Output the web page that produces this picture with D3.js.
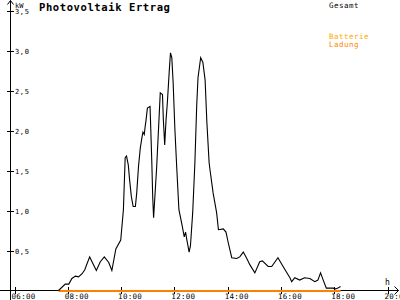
<!DOCTYPE html>
<html>
<head>
<meta charset="utf-8">
<script src="https://cdn.jsdelivr.net/npm/d3@7"></script>
<style>
  body { margin: 0; background: #fff; }
  svg { display: block; }
  text { font-family: "DejaVu Sans Mono", monospace; }
</style>
</head>
<body>
<div id="chart"></div>
<script>
// PV yield ("Gesamt")
const times = ["07:37","07:52","08:00","08:07","08:15","08:22","08:30","08:36","08:47","09:02",
  "09:11","09:20","09:30","09:37","09:46","09:57","10:03","10:07","10:10","10:14",
  "10:17","10:21","10:25","10:30","10:33","10:37","10:41","10:45","10:47","10:50",
  "10:52","10:54","10:57","11:03","11:04","11:07","11:09","11:11","11:18","11:26",
  "11:31","11:33","11:36","11:39","11:42","11:46","11:49","11:52","11:55","11:59",
  "12:03","12:08","12:15","12:20","12:23","12:26","12:31","12:34","12:39","12:44",
  "12:48","12:51","12:57","13:02","13:07","13:11","13:16","13:18","13:25","13:33",
  "13:37","13:48","13:54","13:59","14:07","14:18","14:25","14:33","14:40","14:48",
  "14:59","15:10","15:16","15:29","15:37","15:51","16:07","16:18","16:22","16:29",
  "16:40","16:51","17:03","17:14","17:21","17:27","17:33","17:40","17:55","18:01",
  "18:06","18:12"];
const gesamt = [0.00,0.08,0.08,0.15,0.18,0.17,0.21,0.26,0.42,0.25,
  0.36,0.42,0.35,0.25,0.52,0.63,1.01,1.66,1.68,1.57,
  1.38,1.17,1.05,1.05,1.22,1.55,1.78,1.92,1.98,1.95,
  2.05,2.13,2.28,2.30,2.13,1.60,1.17,0.91,1.55,2.47,
  2.45,2.13,1.82,2.13,2.35,2.72,2.97,2.91,2.60,2.01,
  1.55,1.01,0.82,0.67,0.73,0.63,0.48,0.56,0.97,1.60,
  2.30,2.66,2.91,2.85,2.63,2.10,1.60,1.51,1.22,0.97,
  0.76,0.77,0.73,0.60,0.41,0.40,0.42,0.48,0.41,0.32,
  0.22,0.36,0.37,0.30,0.30,0.41,0.26,0.16,0.11,0.16,
  0.13,0.16,0.15,0.11,0.13,0.22,0.13,0.03,0.03,0.02,
  0.03,0.05];

// battery charging ("Batterie Ladung")
const batteryTimes = ["07:37","18:12"];
const batteryKw = [0, 0];

const yTicks = [0.5, 1.0, 1.5, 2.0, 2.5, 3.0, 3.5];
const xTicks = [6, 8, 10, 12, 14, 16, 18, 20];

const toHours = s => { const [h, m] = s.split(':').map(Number); return h + m / 60; };
const fmtY = v => d3.format('.1f')(v).replace('.', ',');
const fmtX = h => String(h).padStart(2, '0') + ':00';

const width = 400, height = 300;
const svg = d3.select('#chart').append('svg')
  .attr('width', width).attr('height', height);

const x = d3.scaleLinear().domain([6, 20]).range([15.5, 388.5]);
const y = d3.scaleLinear().domain([0, 3.5]).range([290.5, 10.5]);

// axes
const axisG = svg.append('g').attr('stroke', '#000').attr('stroke-width', 1).attr('fill', 'none');
axisG.append('line').attr('x1', 10.5).attr('x2', 10.5).attr('y1', 300).attr('y2', 0.5);
axisG.append('path').attr('d', 'M7.5,4.5 L10.5,0.5 L13.5,4.5');
axisG.append('line').attr('x1', 0).attr('x2', 398.5).attr('y1', 290.5).attr('y2', 290.5);
axisG.append('path').attr('d', 'M394.5,286.5 L398.5,290.5 L394.5,294.5');

// y ticks
const yt = svg.append('g').selectAll('g').data(yTicks).join('g');
yt.append('line')
  .attr('x1', 7).attr('x2', 14)
  .attr('y1', d => Math.round(y(d)) + 0.5).attr('y2', d => Math.round(y(d)) + 0.5)
  .attr('stroke', '#000');
yt.append('text')
  .attr('x', 15).attr('y', d => Math.round(y(d)) + 3)
  .attr('font-size', 7).attr('letter-spacing', 0.6)
  .text(fmtY);

// x ticks
const xt = svg.append('g').selectAll('g').data(xTicks).join('g');
xt.append('line')
  .attr('x1', d => Math.round(x(d)) - 0.5).attr('x2', d => Math.round(x(d)) - 0.5)
  .attr('y1', 287).attr('y2', 294)
  .attr('stroke', '#000');
xt.append('text')
  .attr('x', d => x(d) - 4).attr('y', 298.5)
  .attr('font-size', 7.5).attr('letter-spacing', 0.3)
  .text(fmtX);

// axis units
svg.append('text').attr('x', 15).attr('y', 7.5).attr('font-size', 7).text('kW');
svg.append('text').attr('x', 385).attr('y', 285).attr('font-size', 8).text('h');

// title
svg.append('text').attr('x', 39).attr('y', 10.5)
  .attr('font-size', 10.5).attr('font-weight', 'bold').attr('letter-spacing', 0.6)
  .text('Photovoltaik Ertrag');

// legend
svg.append('text').attr('x', 329).attr('y', 7.5).attr('font-size', 7.5).attr('letter-spacing', 0.5)
  .attr('fill', '#000').text('Gesamt');
svg.append('text').attr('x', 329).attr('y', 38.5).attr('font-size', 7.5).attr('letter-spacing', 0.5)
  .attr('fill', '#ffa800').text('Batterie');
svg.append('text').attr('x', 329).attr('y', 46.5).attr('font-size', 7.5).attr('letter-spacing', 0.5)
  .attr('fill', '#ff8400').text('Ladung');

// battery line
const line = d3.line().x(d => x(d[0])).y(d => y(d[1]));
svg.append('path')
  .datum(batteryTimes.map((t, i) => [toHours(t), batteryKw[i]]))
  .attr('d', line)
  .attr('fill', 'none').attr('stroke', '#ff8000').attr('stroke-width', 2)
  .attr('transform', 'translate(0,0.5)');

// PV line
svg.append('path')
  .datum(times.map((t, i) => [toHours(t), gesamt[i]]))
  .attr('d', line)
  .attr('fill', 'none').attr('stroke', '#000').attr('stroke-width', 1.1);
</script>
</body>
</html>
